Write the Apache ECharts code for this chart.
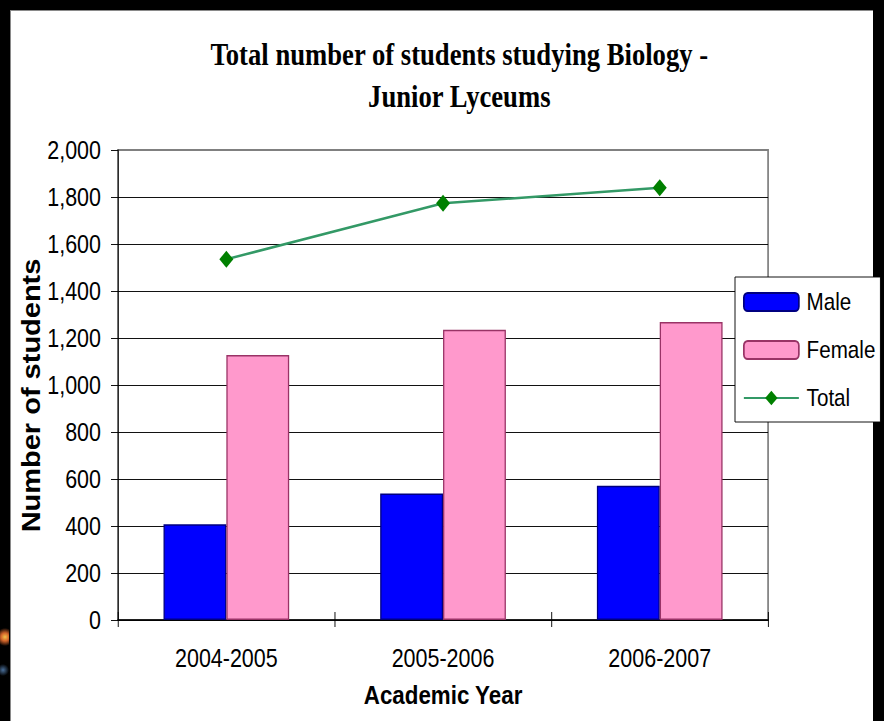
<!DOCTYPE html>
<html>
<head>
<meta charset="utf-8">
<title>Total number of students studying Biology - Junior Lyceums</title>
<script src="https://cdn.jsdelivr.net/npm/echarts@6/dist/echarts.min.js"></script>
<style>
  html, body { margin: 0; padding: 0; background: #000; overflow: hidden; }
  #panel { position: absolute; left: 10px; top: 10px; width: 863px; height: 711px; background: #fff;
           border-top: 1px solid #8a8a8a; border-left: 1px solid #8a8a8a; box-sizing: border-box; }
  #edge { position: absolute; left: 0; top: 615px; width: 9px; height: 80px;
          background:
            radial-gradient(circle at 5px 22px, #f4c24a 0, #d2642a 4px, rgba(0,0,0,0) 9px),
            radial-gradient(circle at 3px 55px, #4a6f9a 0, rgba(0,0,0,0) 6px),
            #000; }
  #chart { position: absolute; left: 0; top: 0; height: 721px; transform-origin: 0 0; }
</style>
</head>
<body>
<div id="panel"></div>
<div id="edge"></div>
<div id="chart"></div>
<script>
// Student counts per academic year
const years = ['2004-2005', '2005-2006', '2006-2007'];
const male = [407, 538, 571];
const female = [1128, 1235, 1268];
const total = [1535, 1773, 1839];

// The chart is laid out on a wider canvas and squeezed horizontally (narrow lettering)
const K = 0.86;
const PAGE_W = 884;
const W = PAGE_W / K;
const sx = v => v / K;

const chartEl = document.getElementById('chart');
chartEl.style.width = W + 'px';
chartEl.style.transform = 'scaleX(' + K + ')';

const SANS = '"Liberation Sans", Arial, sans-serif';
const SERIF = '"Liberation Serif", "Times New Roman", serif';

const fmt = v => v.toLocaleString('en-US');
const gridColors = ['#000', '#000', '#000', '#000', '#000', '#000', '#000', '#000', '#000', '#000', '#808080'];

const chart = echarts.init(chartEl, null, { renderer: 'svg' });
chart.setOption({
  animation: false,
  backgroundColor: 'transparent',
  title: {
    text: 'Total number of students studying Biology -\nJunior Lyceums',
    left: sx(455),
    top: 28,
    textAlign: 'center',
    textStyle: { fontFamily: SERIF, fontWeight: 'bold', fontSize: 31, lineHeight: 42, color: '#000' }
  },
  legend: {
    orient: 'vertical',
    left: sx(735),
    top: 277,
    padding: [13, sx(5), 12, sx(8)],
    itemWidth: sx(55),
    itemHeight: 18,
    itemGap: 24,
    backgroundColor: '#fff',
    borderColor: '#000',
    borderWidth: 1,
    textStyle: { fontFamily: SANS, fontSize: 24, lineHeight: 24, color: '#000', padding: [0, 0, 0, 4] },
    data: ['Male', 'Female', 'Total']
  },
  grid: {
    left: sx(118),
    right: W - sx(768),
    top: 150,
    bottom: 101,
    show: true,
    borderColor: '#808080',
    borderWidth: 2,
    backgroundColor: 'transparent'
  },
  xAxis: [
    {
      type: 'category',
      data: years,
      position: 'bottom',
      axisLine: { lineStyle: { color: '#000', width: 1.5 } },
      axisTick: { show: true, length: 7, lineStyle: { color: '#000' } },
      axisLabel: { margin: 26, fontFamily: SANS, fontSize: 25, color: '#000' },
      name: 'Academic Year',
      nameLocation: 'middle',
      nameGap: 62,
      nameMoveOverlap: false,
      nameTextStyle: { fontFamily: SANS, fontWeight: 'bold', fontSize: 26, color: '#000' }
    },
    {
      // inner half of the crossing tick marks
      type: 'category',
      data: years,
      position: 'bottom',
      axisLine: { show: false },
      axisTick: { show: true, inside: true, length: 8, lineStyle: { color: '#000' } },
      axisLabel: { show: false },
      splitLine: { show: false }
    }
  ],
  yAxis: {
    type: 'value',
    min: 0,
    max: 2000,
    interval: 200,
    axisLine: { show: true, lineStyle: { color: '#000', width: 1 } },
    axisTick: { show: true, length: sx(7), lineStyle: { color: '#000' } },
    axisLabel: { margin: sx(17), fontFamily: SANS, fontSize: 25, color: '#000', formatter: fmt },
    splitLine: { show: true, lineStyle: { color: gridColors, width: 1 } },
    name: 'Number of students',
    nameLocation: 'middle',
    nameRotate: 90,
    nameGap: 86,
    nameMoveOverlap: false,
    nameTextStyle: { fontFamily: SANS, fontWeight: 'bold', fontSize: 29, color: '#000', padding: [0, 21, 0, 0] }
  },
  series: [
    {
      name: 'Male',
      type: 'bar',
      data: male,
      barGap: '0%',
      barCategoryGap: '42%',
      itemStyle: { color: '#0000ff', borderColor: '#000080', borderWidth: 1.5 }
    },
    {
      name: 'Female',
      type: 'bar',
      data: female,
      itemStyle: { color: '#ff99cc', borderColor: '#993366', borderWidth: 1.5 }
    },
    {
      name: 'Total',
      type: 'line',
      data: total,
      symbol: 'diamond',
      symbolSize: [sx(14), 17],
      lineStyle: { color: '#339966', width: 2.5 },
      itemStyle: { color: '#008000', borderWidth: 0 },
      z: 5
    }
  ]
});
</script>
</body>
</html>
